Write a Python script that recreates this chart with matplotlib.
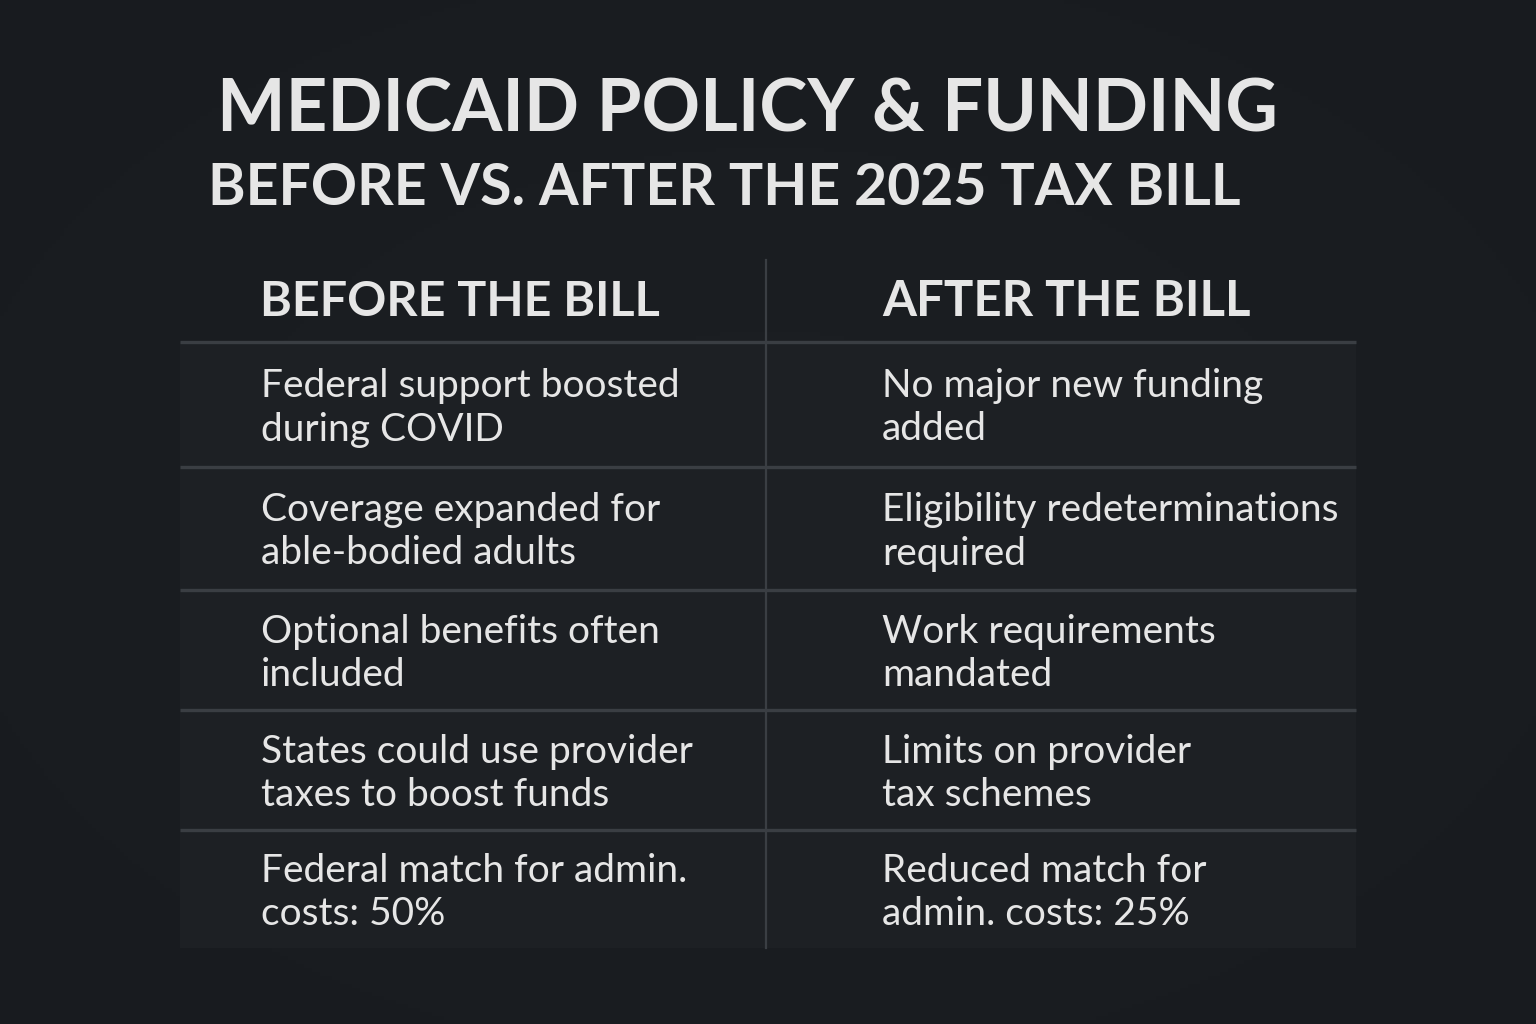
import numpy as np
import matplotlib.pyplot as plt
from matplotlib.patches import Rectangle

# text content
title = 'MEDICAID POLICY & FUNDING'
subtitle = 'BEFORE VS. AFTER THE 2025 TAX BILL'
col_headers = ['BEFORE THE BILL', 'AFTER THE BILL']
before = ['Federal support boosted\nduring COVID',
          'Coverage expanded for\nable-bodied adults',
          'Optional benefits often\nincluded',
          'States could use provider\ntaxes to boost funds',
          'Federal match for admin.\ncosts: 50%']
after = ['No major new funding\nadded',
         'Eligibility redeterminations\nrequired',
         'Work requirements\nmandated',
         'Limits on provider\ntax schemes',
         'Reduced match for\nadmin. costs: 25%']

W, H = 1536, 1024
bg = '#181b1f'
cell_bg = '#1d2024'
line_c = '#3a3e43'
txt_c = '#e6e6e6'

fig = plt.figure(figsize=(W / 100, H / 100), dpi=100, facecolor=bg)
ax = fig.add_axes([0, 0, 1, 1])
ax.set_xlim(0, W)
ax.set_ylim(H, 0)
ax.axis('off')

# soft vignette
yy, xx = np.mgrid[0:H:4, 0:W:4]
r = np.sqrt(((xx - W / 2) / (W / 2)) ** 2 + ((yy - H / 2) / (H / 2)) ** 2)
shade = np.clip(1 - 0.35 * r, 0, 1)
base = np.array([0x14, 0x17, 0x1b]) / 255
top = np.array([0x1c, 0x1f, 0x23]) / 255
img = base + (top - base) * shade[..., None]
ax.imshow(img, extent=[0, W, H, 0], zorder=0, aspect='auto')

renderer = fig.canvas.get_renderer()


def fit_text(x, y, s, width, weight='bold', **kw):
    t = ax.text(x, y, s, fontsize=40, fontweight=weight, family=['Lato', 'DejaVu Sans'],
                color=txt_c, ha='left', va='baseline', zorder=5, **kw)
    w = t.get_window_extent(renderer).width
    t.set_fontsize(40 * width / w)
    return t


fit_text(217, 132, title, 1061)
fit_text(208, 205, subtitle, 1032)

# table geometry (pixel layout)
x0, x1, xm = 180, 1356, 766
head_top = 260
edges = [342, 467, 590, 710, 830, 948]
n = len(before)

ax.add_patch(Rectangle((x0, edges[0]), x1 - x0, edges[-1] - edges[0],
                       facecolor=cell_bg, edgecolor='none', zorder=1))
for e in edges[:-1]:
    ax.plot([x0, x1], [e, e], color=line_c, lw=2.4, zorder=2, solid_capstyle='butt')
ax.plot([xm, xm], [head_top, edges[-1]], color=line_c, lw=1.6, zorder=2)

fit_text(260, 316, col_headers[0], 400)
fit_text(882, 316, col_headers[1], 368)

# body font size fitted on first cell line
probe = fit_text(261, 0, before[0].split('\n')[0], 419, weight='normal')
body_fs = probe.get_fontsize()
probe.remove()

for i in range(n):
    mid = (edges[i] + edges[i + 1]) / 2
    for col, x in ((before, 261), (after, 882)):
        lines = col[i].split('\n')
        for j, ln in enumerate(lines):
            ax.text(x, mid - 7 + 43 * j, ln, fontsize=body_fs,
                    family=['Lato', 'DejaVu Sans'], color=txt_c,
                    ha='left', va='baseline', zorder=5)

fig.savefig('out.png', dpi=100, facecolor=bg)
